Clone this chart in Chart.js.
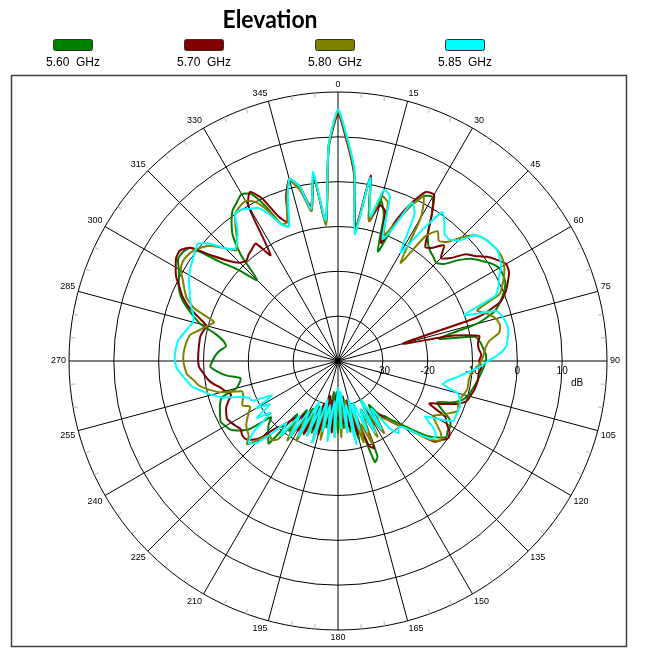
<!DOCTYPE html>
<html><head><meta charset="utf-8">
<script src="https://cdn.jsdelivr.net/npm/chart.js@4.4.1/dist/chart.umd.min.js"></script>
<style>html,body{margin:0;padding:0;background:#fff;}canvas{display:block;}</style>
</head><body>
<canvas id="c" width="656" height="648"></canvas>
<script>
const angles = [
  0, 2.5, 5, 7.5, 10, 12.5, 15, 17.5, 20, 22.5, 25, 27.5,
  30, 32.5, 35, 37.5, 40, 42.5, 45, 47.5, 50, 52.5, 55, 57.5,
  60, 62.5, 65, 67.5, 70, 72.5, 75, 77.5, 80, 82.5, 85, 87.5,
  90, 92.5, 95, 97.5, 100, 102.5, 105, 107.5, 110, 112.5, 115, 117.5,
  120, 122.5, 125, 127.5, 130, 132.5, 135, 137.5, 140, 142.5, 145, 147.5,
  150, 152.5, 155, 157.5, 160, 162.5, 165, 167.5, 170, 172.5, 175, 177.5,
  180, 182.5, 185, 187.5, 190, 192.5, 195, 197.5, 200, 202.5, 205, 207.5,
  210, 212.5, 215, 217.5, 220, 222.5, 225, 227.5, 230, 232.5, 235, 237.5,
  240, 242.5, 245, 247.5, 250, 252.5, 255, 257.5, 260, 262.5, 265, 267.5,
  270, 272.5, 275, 277.5, 280, 282.5, 285, 287.5, 290, 292.5, 295, 297.5,
  300, 302.5, 305, 307.5, 310, 312.5, 315, 317.5, 320, 322.5, 325, 327.5,
  330, 332.5, 335, 337.5, 340, 342.5, 345, 347.5, 350, 352.5, 355, 357.5
];

const seriesNames = ['5.60  GHz', '5.70  GHz', '5.80  GHz', '5.85  GHz'];
const seriesColors = ['#008000', '#800000', '#808000', '#00FFFF'];

const gain560 = [
  15.6, 9, 2, -10, 1.5, -8,
  -3, -6, -14, -7, -2, 1.5,
  2.2, -1, -5, -7, -8, -8.5,
  -9, -8, -5, -2.5, -1, 0.5,
  1.5, 1.5, 1.2, 0, -1.5, -3.5,
  -8, -17, -9, -8, -7.5, -7,
  -7, -7.5, -8, -8.5, -9, -9.5,
  -10, -11, -13, -16, -14.5, -12,
  -11, -11, -10.5, -12, -14, -17,
  -20, -22, -24, -25, -28, -22,
  -30, -21, -28, -17, -16, -27,
  -22, -30, -24, -32, -25, -33,
  -24, -32, -26, -33, -25, -31,
  -24, -30, -23, -29, -22, -28,
  -23, -27, -21, -25, -16, -17,
  -18, -19, -20.5, -15, -13, -11.5,
  -11, -10.5, -11, -11.5, -12, -12.8,
  -16.5, -17.5, -17.9, -15, -13, -11.5,
  -12, -12.6, -13.5, -14.8, -14, -12,
  -8.3, -6, -3.8, -2, -0.8, 0,
  1, 2.3, 2.3, 1.5, -5.5, -10,
  -14.5, -8, -3.5, -1, 1, 2,
  3, 2, -2, -7, -8, -2,
  2, 0, -6, 1.5, -9, 8
];

const gain570 = [
  15, 8.5, 1.5, -10, 2, -8,
  -4, -5, -12, -6, -1, 2.5,
  2.8, -1, -5, -8, -7, -5,
  -7.5, -6, -3, -1.5, 0.5, 2,
  3.3, 3, 1.8, 0.5, -1.5, -7,
  -25, -14, -8, -8.5, -8.5, -8,
  -8.5, -8, -8.5, -8.5, -8.7, -9,
  -9.5, -10, -12, -15, -17.5, -13,
  -12, -10.5, -10, -11, -12, -16,
  -19, -21, -23, -25, -26, -21,
  -27, -22, -28, -19, -20, -28,
  -23, -31, -25, -32, -26, -30,
  -27, -33, -24, -31, -26, -32,
  -23, -30, -24, -28, -22, -27,
  -22, -26, -22, -24, -21, -20,
  -16, -14, -13, -13, -13.5, -13,
  -12.5, -12.1, -12.5, -13, -14, -15,
  -14, -13, -11.5, -10.5, -9.8, -9,
  -8.8, -8.8, -8.8, -8.8, -8.8, -9.2,
  -9.6, -7.3, -4.5, -2.5, -1, 0.7,
  1.8, 2.8, 3, 1.5, -3.5, -7,
  -9, -9.7, -9, -8.5, -8, -12,
  0, 2.5, 0, -5, -7, -1.5,
  2, 0, -5, 1.5, -9, 7.5
];

const gain580 = [
  15.6, 9, 2, -10.5, 1, -8,
  -2, -3, -10, -7, -2, 1.3,
  -3, -14, -6, -3.5, -5, -4,
  -1, 1.5, 2.5, 3, 3.3, 3.3,
  2.8, 1.8, 0.5, -1, -7, -5,
  -3.5, -3, -3.5, -6, -7, -7.5,
  -8, -9, -10, -10.5, -10.5, -10.5,
  -11, -11.5, -11.5, -11, -12.5, -14,
  -15.5, -14, -12, -11, -12.5, -16,
  -19, -21, -23, -24, -25, -21,
  -26, -21, -27, -20, -25, -21,
  -29, -23, -31, -24, -29, -23,
  -31, -23, -30, -22, -30, -22,
  -29, -21, -28, -22, -27, -20,
  -25, -19, -23, -18, -17, -17.5,
  -15.5, -12.5, -14, -14.5, -15, -16,
  -17, -17.9, -16.5, -17, -17.5, -17.5,
  -13, -10.5, -8.5, -7.5, -6.2, -5.8,
  -5.5, -5.5, -5.7, -6, -6.5, -8.3,
  -9.8, -11, -6, -3.5, -2.2, -1,
  0.5, 1.1, 1, 0.5, -0.5, -2,
  -4.5, -6.5, -5, -2.5, 0, 0.8,
  1.2, 0, -3, -7, -7, -2,
  1.5, -1, -6, 2, -9.5, 8
];

const gain585 = [
  16.1, 9.5, 2.5, -11.5, 1.5, -7,
  -0.5, -1.5, -11, -8, -1, -3,
  -12, -6, 0.5, -1, -3, -3.2,
  -2, 1.5, 2.5, 3, 3.3, 2.8,
  2, 0.5, -0.5, -2, -10, -3,
  -2, -1.5, -1.4, -1.8, -2.3, -4,
  -6.5, -8.5, -11, -13, -15, -16,
  -12.5, -11.5, -11, -11, -11, -11,
  -14, -17, -14, -12.5, -13, -16,
  -19, -20, -19, -21, -27, -22,
  -30, -22, -28, -23, -30, -24,
  -31, -21, -30, -24, -33, -25,
  -34, -23, -31, -22, -30, -24,
  -31, -21, -29, -22, -30, -21,
  -27, -20, -25, -19, -22, -18,
  -14, -13, -15.5, -21, -18, -22,
  -19, -23.5, -19, -18.5, -16.5, -13,
  -10.8, -9, -7, -6, -5, -4,
  -3.6, -3.6, -3.8, -4.1, -5, -5.8,
  -6.5, -6.2, -5.2, -4.3, -3.5, -2.5,
  -1.7, -1, -0.5, 0.2, 0.7, -1.3,
  -4.5, -6, -5, -3.2, 0, 0.1,
  -0.8, -1.5, -4, -7, -8, -3,
  2, 0, -5.5, 2.5, -8.5, 8
];

const angleTickLabels = ['0','15','30','45','60','75','90','105','120','135','150','165',
                         '180','195','210','225','240','255','270','285','300','315','330','345'];
const ringTickValues = [-30, -20, -10, 0, 10];
const ringTickLabels = ['-30', '-20', '-10', '0', '10'];
const unitText = 'dB';
const titleText = 'Elevation';
const rMin = -40, rMax = 20, rStep = 10;

const seriesData = [gain560, gain570, gain580, gain585];

const decor = {
  id: 'decor',
  beforeDraw(chart) {
    const c = chart.ctx;
    c.save();
    c.fillStyle = '#ffffff';
    c.fillRect(0, 0, chart.width, chart.height);
    c.restore();
  },
  beforeDatasetsDraw(chart) {
    const s = chart.scales.r;
    const c = chart.ctx;
    const R = s.drawingArea;
    c.save();
    c.strokeStyle = '#b4b4b4';
    c.lineWidth = 1;
    for (let i = 0; i < angles.length; i++) {
      if (i % 2 !== 0 || i % 6 === 0) continue;
      const p1 = s.getPointPosition(i, R - 5);
      const p2 = s.getPointPosition(i, R);
      c.beginPath(); c.moveTo(p1.x, p1.y); c.lineTo(p2.x, p2.y); c.stroke();
    }
    c.fillStyle = '#000';
    c.font = '9px "Liberation Sans", Arial, sans-serif';
    angleTickLabels.forEach((lab, k) => {
      const i = k * 6;
      const deg = angles[i];
      const p = s.getPointPosition(i, R + 3);
      c.textAlign = (deg === 0 || deg === 180) ? 'center' : (deg < 180 ? 'left' : 'right');
      c.textBaseline = (deg === 90 || deg === 270) ? 'middle' : ((deg < 90 || deg > 270) ? 'bottom' : 'top');
      c.fillText(lab, p.x, p.y);
    });
    c.font = '10px "Liberation Sans", Arial, sans-serif';
    c.textAlign = 'center';
    c.textBaseline = 'top';
    ringTickValues.forEach((v, k) => {
      const d = s.getDistanceFromCenterForValue(v);
      c.fillText(ringTickLabels[k], s.xCenter + d, s.yCenter + 5);
    });
    const dLast = s.getDistanceFromCenterForValue(ringTickValues[ringTickValues.length - 1]);
    c.fillText(unitText, s.xCenter + dLast + 15, s.yCenter + 17);
    c.restore();
  },
  afterDraw(chart) {
    const c = chart.ctx;
    c.save();
    c.strokeStyle = '#404040';
    c.lineWidth = 1.5;
    c.strokeRect(11.5, 75.5, 615, 571);
    c.fillStyle = '#000';
    c.font = 'bold 25px Lato, "Open Sans", sans-serif';
    c.textAlign = 'center';
    c.textBaseline = 'alphabetic';
    c.fillText(titleText, 270, 28, 95);
    const centers = [73, 204, 335, 465];
    chart.data.datasets.forEach((ds, k) => {
      const cx = centers[k];
      c.fillStyle = ds.borderColor;
      c.strokeStyle = '#303030';
      c.lineWidth = 1;
      c.beginPath();
      if (c.roundRect) c.roundRect(cx - 19.5, 39.5, 39, 11, 2); else c.rect(cx - 19.5, 39.5, 39, 11);
      c.fill(); c.stroke();
      c.fillStyle = '#000';
      c.font = '12px "Liberation Sans", Arial, sans-serif';
      c.textAlign = 'center';
      c.textBaseline = 'middle';
      c.fillText(ds.label, cx, 63);
    });
    c.restore();
  }
};

const orders = [3, 2, 1, 0];
new Chart(document.getElementById('c'), {
  type: 'radar',
  data: {
    labels: angles,
    datasets: seriesData.map((d, k) => ({
      label: seriesNames[k],
      data: d,
      borderColor: seriesColors[k],
      backgroundColor: seriesColors[k],
      borderWidth: 2,
      pointRadius: 0,
      pointHoverRadius: 0,
      fill: false,
      tension: 0.2,
      order: orders[k]
    }))
  },
  options: {
    responsive: false,
    animation: false,
    devicePixelRatio: 1,
    layout: { padding: { left: 69, top: 92, right: 49, bottom: 18 } },
    elements: { line: { borderJoinStyle: 'round', borderCapStyle: 'round' } },
    plugins: { legend: { display: false }, title: { display: false }, tooltip: { enabled: false } },
    scales: {
      r: {
        min: rMin, max: rMax, startAngle: 0,
        ticks: { stepSize: rStep, display: false },
        grid: { circular: true, color: '#000', lineWidth: 1 },
        angleLines: {
          display: true,
          color: '#000',
          lineWidth: (ctx) => (ctx.index % 6 === 0 ? 1 : 0)
        },
        pointLabels: { display: false }
      }
    }
  },
  plugins: [decor]
});
</script>
</body></html>
